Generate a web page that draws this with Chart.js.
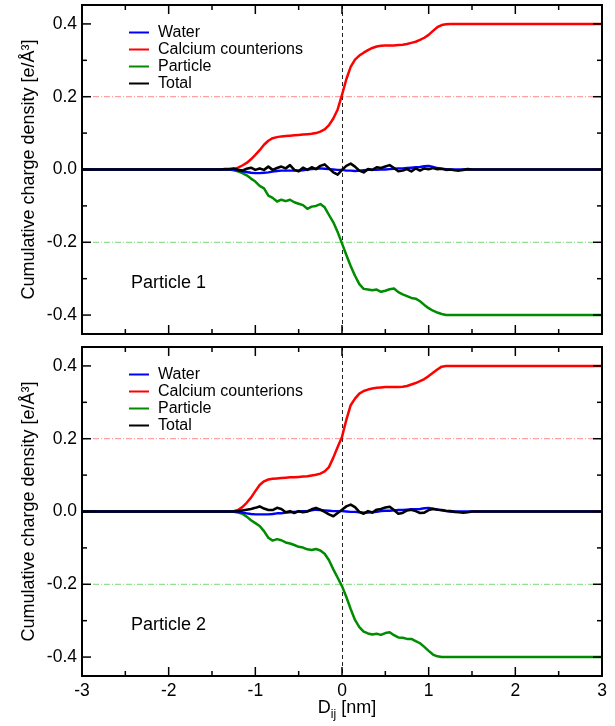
<!DOCTYPE html>
<html><head><meta charset="utf-8">
<script src="https://cdn.jsdelivr.net/npm/chart.js@4.4.1/dist/chart.umd.min.js"></script>
<style>
html,body{margin:0;padding:0;background:#fff;}
#wrap{position:relative;width:615px;height:726px;background:#fff;}
canvas{position:absolute;left:0;}
#c1{top:0}
#c2{top:340px}
</style></head><body>
<div id="wrap"><canvas id="c1" width="615" height="340"></canvas><canvas id="c2" width="615" height="386"></canvas></div>
<script>
// ---------- data ----------
const D = [-3,-2.5,-2,-1.5,-1.45,
  -1.4,-1.35,-1.3,-1.25,-1.2,-1.15,-1.1,-1.05,-1.0,-0.95,-0.9,-0.85,-0.8,-0.75,-0.7,-0.65,-0.6,-0.55,-0.5,-0.45,-0.4,-0.35,-0.3,-0.25,-0.2,-0.15,-0.1,-0.05,
  0,
  0.05,0.1,0.15,0.2,0.25,0.3,0.35,0.4,0.45,0.5,0.55,0.6,0.65,0.7,0.75,0.8,0.85,0.9,0.95,1.0,1.05,1.1,1.15,1.2,1.25,1.3,1.35,1.4,1.45,1.5,
  2,2.5,3];

const water1 = [0,0,0,0,0,
  0,0,0,0,-0.003,-0.005,-0.007,-0.009,-0.010,-0.010,-0.009,-0.008,-0.006,-0.004,-0.003,-0.003,-0.003,-0.003,-0.003,-0.002,0,0.001,0.002,0.003,0.002,0.001,0,-0.001,
  -0.001,
  -0.003,-0.003,-0.004,-0.003,-0.002,-0.001,-0.001,-0.001,0,0,0.001,0.002,0.003,0.003,0.004,0.005,0.006,0.007,0.009,0.010,0.007,0.004,0.002,0.001,0,0,0,0,0,0,
  0,0,0];
const calcium1 = [0,0,0,0,0,
  0,0,0,0.001,0.005,0.011,0.018,0.028,0.040,0.053,0.068,0.079,0.086,0.089,0.091,0.092,0.093,0.094,0.095,0.096,0.097,0.098,0.100,0.104,0.110,0.122,0.140,0.165,
  0.205,
  0.248,0.282,0.302,0.313,0.321,0.328,0.334,0.338,0.340,0.341,0.341,0.341,0.342,0.343,0.345,0.348,0.351,0.356,0.362,0.370,0.381,0.391,0.397,0.399,0.400,0.400,0.400,0.400,0.400,0.400,
  0.4,0.4,0.4];
const particle1 = [0,0,0,0,0,
  0,0,0,-0.002,-0.005,-0.010,-0.016,-0.025,-0.033,-0.045,-0.052,-0.072,-0.078,-0.088,-0.083,-0.087,-0.083,-0.090,-0.094,-0.098,-0.108,-0.102,-0.100,-0.095,-0.104,-0.125,-0.145,-0.172,
  -0.203,
  -0.235,-0.265,-0.292,-0.315,-0.328,-0.330,-0.332,-0.330,-0.336,-0.333,-0.329,-0.327,-0.337,-0.343,-0.348,-0.353,-0.355,-0.362,-0.372,-0.381,-0.388,-0.393,-0.397,-0.400,-0.400,-0.400,-0.400,-0.400,-0.400,-0.400,
  -0.4,-0.4,-0.4];
const total1 = [0,0,0,0,0,
  0,0.001,0.001,0.003,-0.001,-0.003,0.002,0.005,-0.001,0.003,-0.001,0.008,-0.001,0.004,0.008,0.003,0.012,-0.001,-0.005,0.005,-0.001,0.006,0.001,0.010,0.014,0.003,-0.008,-0.014,
  -0.001,
  0.010,0.016,0.008,-0.003,-0.008,0.001,-0.001,0.006,0.004,0.008,0.012,0.004,-0.005,-0.003,0.001,-0.005,0.003,-0.003,0.003,0.001,0.004,0.001,0.002,-0.001,0,-0.002,-0.003,-0.001,0.001,0,
  0,0,0];

const water2 = [0,0,0,0,0,
  0,0,0,0,-0.001,-0.003,-0.005,-0.007,-0.008,-0.008,-0.008,-0.008,-0.007,-0.005,-0.005,-0.003,-0.002,-0.001,0,0.001,0.001,0.003,0.005,0.004,0.003,0.002,0.001,0.001,
  0.001,
  0,-0.001,-0.001,-0.002,-0.003,-0.003,-0.002,-0.001,0.001,0.002,0.002,0.003,0.004,0.004,0.005,0.006,0.006,0.007,0.009,0.010,0.008,0.006,0.003,0.001,0,0,0,0,0,0,
  0,0,0];
const calcium2 = [0,0,0,0,0,
  0,0,0,0.001,0.004,0.012,0.024,0.038,0.056,0.073,0.083,0.088,0.090,0.091,0.092,0.093,0.094,0.094,0.095,0.096,0.097,0.099,0.101,0.104,0.110,0.122,0.148,0.177,
  0.205,
  0.252,0.292,0.310,0.324,0.331,0.335,0.338,0.340,0.341,0.342,0.342,0.342,0.342,0.343,0.345,0.349,0.353,0.358,0.364,0.372,0.381,0.390,0.398,0.400,0.400,0.400,0.400,0.400,0.400,0.400,
  0.4,0.4,0.4];
const particle2 = [0,0,0,0,0,
  0,0,0,-0.001,-0.003,-0.006,-0.014,-0.024,-0.032,-0.040,-0.054,-0.072,-0.080,-0.076,-0.079,-0.085,-0.088,-0.092,-0.097,-0.099,-0.104,-0.106,-0.103,-0.107,-0.116,-0.134,-0.159,-0.182,
  -0.205,
  -0.235,-0.268,-0.298,-0.318,-0.330,-0.335,-0.338,-0.336,-0.339,-0.334,-0.332,-0.340,-0.346,-0.347,-0.350,-0.350,-0.356,-0.362,-0.372,-0.383,-0.393,-0.398,-0.400,-0.400,-0.400,-0.400,-0.400,-0.400,-0.400,-0.400,
  -0.4,-0.4,-0.4];
const total2 = [0,0,0,0,0,
  0,0,0,0,0.001,0.003,0.005,0.007,0.010,0.014,0.008,0.004,0.004,0.010,0.007,-0.002,0.001,-0.004,0.001,-0.002,0,0.006,0.010,0.005,-0.001,-0.008,-0.013,-0.004,
  0.005,
  0.014,0.019,0.012,-0.001,-0.006,0.001,-0.003,0.005,0.007,0.011,0.013,0.004,-0.006,-0.004,0.003,0.005,0.001,-0.004,-0.003,0.004,0.007,0.005,0.004,0.002,0.001,-0.001,-0.002,-0.003,-0.002,0,
  0,0,0];

const seriesNames = ["Water", "Calcium counterions", "Particle", "Total"];
const refLevels = [0.2, -0.2];
const xTicks = [-3, -2, -1, 0, 1, 2, 3];
const yTicks = [-0.4, -0.2, 0.0, 0.2, 0.4];
const panelLabels = ["Particle 1", "Particle 2"];
const xTitle = ["D", "ij", " [nm]"];
const yTitle = "Cumulative charge density [e/Å³]";

// ---------- styling ----------
const FONT = "'Liberation Sans', Arial, Helvetica, sans-serif";
const seriesColors = ["#0000ff", "#ff0000", "#008c00", "#000000"];
const seriesWidths = [2.4, 2.5, 2.5, 2.6];
const refColors = ["#ff8a8a", "#7ad87a"];
const seriesOrder = [2, 4, 3, 1];

function pts(arr) { return D.map((x, i) => ({x: x, y: arr[i]})); }

function buildDatasets(series) {
  const ds = series.map((arr, i) => ({
    label: seriesNames[i], data: pts(arr), borderColor: seriesColors[i],
    borderWidth: seriesWidths[i], pointRadius: 0, tension: 0, order: seriesOrder[i],
    borderJoinStyle: 'round', borderCapStyle: 'round', inLegend: true
  }));
  refLevels.forEach((lv, i) => ds.push({
    label: 'ref' + i, data: [{x: D[0], y: lv}, {x: D[D.length - 1], y: lv}],
    borderColor: refColors[i], borderWidth: 1, pointRadius: 0,
    borderDash: [6, 2, 1, 2], order: 10, inLegend: false
  }));
  return ds;
}

const framePlugin = {
  id: 'frame',
  beforeDatasetsDraw(chart) {
    const {ctx, chartArea: a, scales: {x}} = chart;
    const px = Math.round(x.getPixelForValue(0)) + 0.5;
    ctx.save();
    ctx.strokeStyle = '#222'; ctx.lineWidth = 1; ctx.setLineDash([4, 3]);
    ctx.beginPath(); ctx.moveTo(px, a.top); ctx.lineTo(px, a.bottom); ctx.stroke();
    ctx.restore();
  },
  afterDraw(chart, args, opts) {
    const {ctx, chartArea: a, scales: {x, y}} = chart;
    ctx.save();
    ctx.strokeStyle = '#000';
    ctx.lineWidth = 1.5;
    const tk = (x1, y1, x2, y2) => { ctx.beginPath(); ctx.moveTo(x1, y1); ctx.lineTo(x2, y2); ctx.stroke(); };
    for (let i = 0; i < xTicks.length; i++) {
      const v = xTicks[i];
      const px = x.getPixelForValue(v);
      if (v > xTicks[0] && v < xTicks[xTicks.length - 1]) {
        tk(px, a.bottom, px, a.bottom - 9); tk(px, a.top, px, a.top + 9);
      }
      if (i < xTicks.length - 1) {
        const m = x.getPixelForValue((v + xTicks[i + 1]) / 2);
        tk(m, a.bottom, m, a.bottom - 5); tk(m, a.top, m, a.top + 5);
      }
    }
    for (let i = 0; i < yTicks.length; i++) {
      const v = yTicks[i];
      const py = y.getPixelForValue(v);
      tk(a.left, py, a.left + 9, py); tk(a.right, py, a.right - 9, py);
      if (i < yTicks.length - 1) {
        const m = y.getPixelForValue((v + yTicks[i + 1]) / 2);
        tk(a.left, m, a.left + 5, m); tk(a.right, m, a.right - 5, m);
      }
    }
    ctx.lineWidth = 2;
    ctx.strokeRect(a.left, a.top, a.right - a.left, a.bottom - a.top);
    // legend
    ctx.font = '16px ' + FONT;
    ctx.textBaseline = 'middle';
    ctx.fillStyle = '#000';
    chart.data.datasets.filter(d => d.inLegend).forEach((d, i) => {
      const ly = a.top + 27.5 + i * 17;
      ctx.strokeStyle = d.borderColor; ctx.lineWidth = 2;
      tk(129, ly, 149, ly);
      ctx.fillText(d.label, 158, ly);
    });
    // panel label
    ctx.font = '18px ' + FONT;
    ctx.textBaseline = 'alphabetic';
    ctx.fillText(opts.label, 131, a.top + 283);
    // x title
    if (opts.xTitle) {
      const big = '18px ' + FONT, small = '12px ' + FONT;
      ctx.font = big; const w1 = ctx.measureText(xTitle[0]).width;
      ctx.font = small; const w2 = ctx.measureText(xTitle[1]).width;
      ctx.font = big; const w3 = ctx.measureText(xTitle[2]).width;
      let sx = (a.left + a.right) / 2 + 5 - (w1 + w2 + w3) / 2;
      const by = a.bottom + 37;
      ctx.font = big; ctx.fillText(xTitle[0], sx, by); sx += w1;
      ctx.font = small; ctx.fillText(xTitle[1], sx, by + 5); sx += w2;
      ctx.font = big; ctx.fillText(xTitle[2], sx, by);
    }
    ctx.restore();
  }
};

function makeChart(id, series, label, bottom) {
  return new Chart(document.getElementById(id), {
    type: 'line',
    data: {datasets: buildDatasets(series)},
    options: {
      responsive: false, animation: false, devicePixelRatio: 1,
      layout: {padding: bottom ? {top: 7, right: 13, left: 0, bottom: 0} : {top: 5, right: 13, left: 0, bottom: 6}},
      plugins: {legend: {display: false}, tooltip: {enabled: false}, frame: {label: label, xTitle: bottom}},
      scales: {
        x: {
          type: 'linear', min: -3, max: 3, display: bottom,
          grid: {display: false, drawTicks: false}, border: {display: false},
          afterBuildTicks: s => { s.ticks = xTicks.map(v => ({value: v})); },
          afterFit: s => { s.height = bottom ? 50 : 0; s.paddingLeft = 0; s.paddingRight = 0; },
          ticks: {color: '#000', font: {size: 17.5, family: FONT}, padding: 5, maxRotation: 0,
                  callback: v => String(v)}
        },
        y: {
          type: 'linear', min: -0.452, max: 0.452,
          grid: {display: false, drawTicks: false}, border: {display: false},
          afterBuildTicks: s => { s.ticks = yTicks.map(v => ({value: v})); },
          afterFit: s => { s.width = 82; s.paddingTop = 0; s.paddingBottom = 0; },
          ticks: {color: '#000', font: {size: 17.5, family: FONT}, padding: 5,
                  callback: v => Number(v).toFixed(1)},
          title: {display: true, text: yTitle, color: '#000', font: {size: 18, family: FONT},
                  padding: {top: 18, bottom: 0}}
        }
      }
    },
    plugins: [framePlugin]
  });
}

makeChart('c1', [water1, calcium1, particle1, total1], panelLabels[0], false);
makeChart('c2', [water2, calcium2, particle2, total2], panelLabels[1], true);
</script>
</body></html>
